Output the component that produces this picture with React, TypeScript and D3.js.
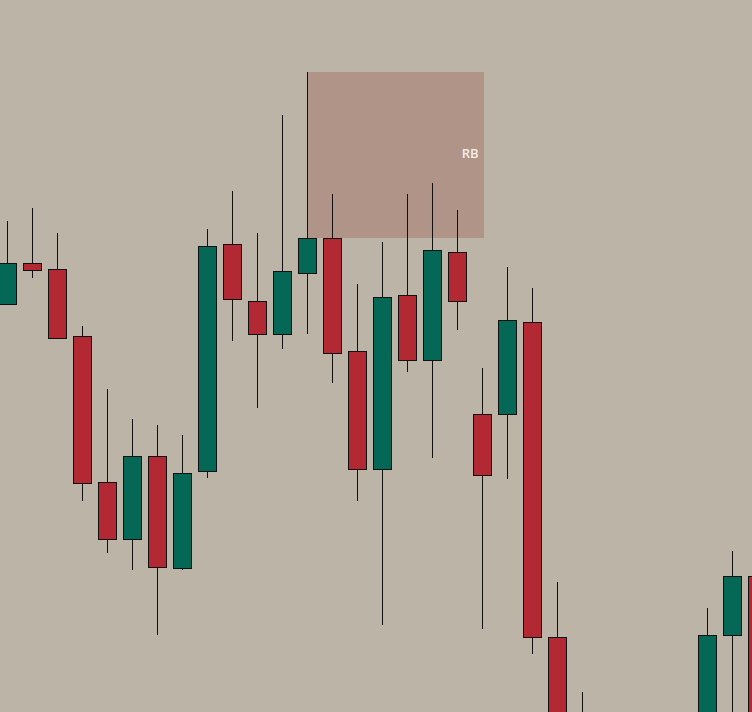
import React from 'react';
import * as d3 from 'd3';

// candle index 0..30, prices in points (higher = up)
const opens = [496, 537, 531, 464, 318, 261, 344, 232, 329, 556, 499, 466, 527, 562, 449, 331, 505, 440, 548, 386, 386, 478, 163, 80, 60, 40, 30, 20, 40, 165, 224];
const highs = [579, 592, 567, 474, 411, 381, 375, 365, 571, 609, 567, 685, 728, 606, 516, 558, 606, 617, 590, 432, 533, 512, 218, 108, 70, 55, 45, 50, 192, 249, 260];
const lows = [495, 522, 462, 299, 247, 230, 165, 230, 322, 459, 392, 451, 466, 417, 299, 175, 428, 342, 470, 171, 321, 146, 10, 0, 20, 10, 0, 0, 20, 60, 50];
const closes = [537, 530, 462, 317, 261, 344, 233, 327, 554, 501, 466, 529, 562, 447, 331, 503, 440, 550, 499, 325, 480, 163, 40, 30, 40, 30, 20, 30, 165, 224, 70];

// range box (from candle 12 to 19)
const boxStart = 12;
const boxEnd = 19;
const boxTop = 728;
const boxBottom = 562;
const boxLabel = 'RB';

const W = 752;
const H = 712;
const BG = '#bcb4a6';
const UP = '#056856';
const DOWN = '#b22833';

const App = () => {
  const candles = opens.map((o, i) => ({ i, o, h: highs[i], l: lows[i], c: closes[i] }));

  const x = d3.scaleLinear().domain([0, 30]).range([7.5, 757.5]);
  const y = d3.scaleLinear().domain([88, 800]).range([H, 0]);
  const bodyW = 18;
  const crisp = (v: number) => Math.round(v) + 0.5;

  return (
    <svg width={W} height={H} style={{ position: 'absolute', left: 0, top: 0, display: 'block' }}>
      <rect width={W} height={H} fill={BG} />
      <rect
        x={x(boxStart)}
        y={y(boxTop)}
        width={x(boxEnd) - x(boxStart) + 1.5}
        height={y(boxBottom) - y(boxTop)}
        fill="#b09488"
      />
      <text
        x={x(boxEnd) - 4}
        y={(y(boxTop) + y(boxBottom)) / 2}
        textAnchor="end"
        dominantBaseline="middle"
        fill="#f4eeea"
        fontFamily="'Open Sans', sans-serif"
        fontWeight={600}
        fontSize={13}
      >
        {boxLabel}
      </text>
      {candles.map(d => {
        const cx = Math.floor(x(d.i)) + 0.5;
        const top = crisp(y(Math.max(d.o, d.c)));
        const bot = crisp(y(Math.min(d.o, d.c)));
        return (
          <g key={d.i}>
            <line x1={cx} x2={cx} y1={y(d.h)} y2={y(d.l)} stroke="#111" strokeWidth={1} />
            <rect
              x={cx - bodyW / 2}
              y={top}
              width={bodyW}
              height={Math.max(bot - top, 1)}
              fill={d.c >= d.o ? UP : DOWN}
              stroke="#111"
              strokeWidth={1}
            />
          </g>
        );
      })}
    </svg>
  );
};

export default App;
